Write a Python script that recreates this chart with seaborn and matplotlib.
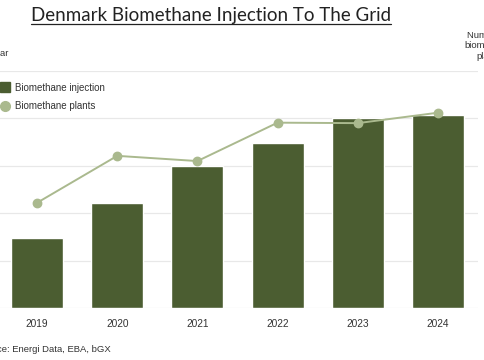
import matplotlib
matplotlib.use("Agg")
import matplotlib.pyplot as plt
import seaborn as sns
import pandas as pd
from matplotlib.lines import Line2D

# data
years = ["2019", "2020", "2021", "2022", "2023", "2024"]
injection = [2.96, 4.44, 6.0, 6.98, 8.0, 8.16]      # left axis (energy per year)
plants = [22.2, 32.1, 31.0, 39.1, 39.0, 41.2]        # right axis (number of plants)

bar_color = "#4b5d31"
line_color = "#aab98e"
grid_color = "#e8e8e8"
text_color = "#333333"

sns.set_style("white")
plt.rcParams["font.family"] = ["Liberation Sans", "DejaVu Sans"]

df = pd.DataFrame({"year": years, "injection": injection, "plants": plants})

fig = plt.figure(figsize=(4.85, 3.6), dpi=100)
W, H = 485, 360
# plot area runs off the left edge like in the cropped reference
ax = fig.add_axes([-3 / W, 1 - 308 / H, 481 / W, (308 - 71) / H])

sns.barplot(data=df, x="year", y="injection", color=bar_color, width=0.65,
            saturation=1, ax=ax, zorder=2)
ax.set_ylim(0, 10)
ax.set_yticks([0, 2, 4, 6, 8, 10])
ax.yaxis.grid(True, color=grid_color, linewidth=0.9, zorder=0)
ax.set_axisbelow(True)
ax.set_xlabel("")
ax.set_ylabel("")
ax.tick_params(axis="y", labelleft=False, length=0)
ax.tick_params(axis="x", length=0, labelsize=7.3, labelcolor=text_color, pad=8)
for s in ax.spines.values():
    s.set_visible(False)

ax2 = ax.twinx()
sns.pointplot(data=df, x="year", y="plants", color=line_color, markers="o",
              markersize=6, linewidth=1.4, ax=ax2)
ax2.set_ylim(0, 50)
ax2.set_xlim(ax.get_xlim())
ax2.set_ylabel("")
ax2.tick_params(axis="y", labelright=False, length=0)
for s in ax2.spines.values():
    s.set_visible(False)

# legend, partly cut by the left edge
handles = [
    Line2D([], [], marker="s", linestyle="none", markersize=7, color=bar_color),
    Line2D([], [], marker="o", linestyle="none", markersize=7, color=line_color),
]
fig.legend(handles, ["Biomethane injection", "Biomethane plants"],
           loc="upper left", bbox_to_anchor=(-9 / W, 1 - 74 / H),
           frameon=False, fontsize=7.0, handlelength=1.0, handletextpad=0.6,
           labelspacing=0.85, labelcolor=text_color)

# title with underline
title = fig.text(211 / W, 1 - 15 / H, "Denmark Biomethane Injection To The Grid",
                 ha="center", va="center", fontsize=13.5, color="#222222",
                 family=["Lato", "DejaVu Sans"])
fig.canvas.draw()
bb = title.get_window_extent().transformed(fig.transFigure.inverted())
fig.add_artist(Line2D([bb.x0, bb.x1], [1 - 24 / H, 1 - 24 / H],
                      transform=fig.transFigure, color="#222222", linewidth=0.9))

# axis titles, cut off by the canvas edges
fig.text(8 / W, 1 - 53 / H, "TWh per year", ha="right", va="center",
         fontsize=6.8, color=text_color)
fig.text(489 / W, 1 - 46 / H, "Number of\nbiomethane\nplants", ha="center",
         va="center", fontsize=6.8, color=text_color, linespacing=1.25)

fig.text(-23 / W, 1 - 350 / H, "Source: Energi Data, EBA, bGX", ha="left",
         va="center", fontsize=6.8, color=text_color)

fig.savefig("out.png", dpi=100)
